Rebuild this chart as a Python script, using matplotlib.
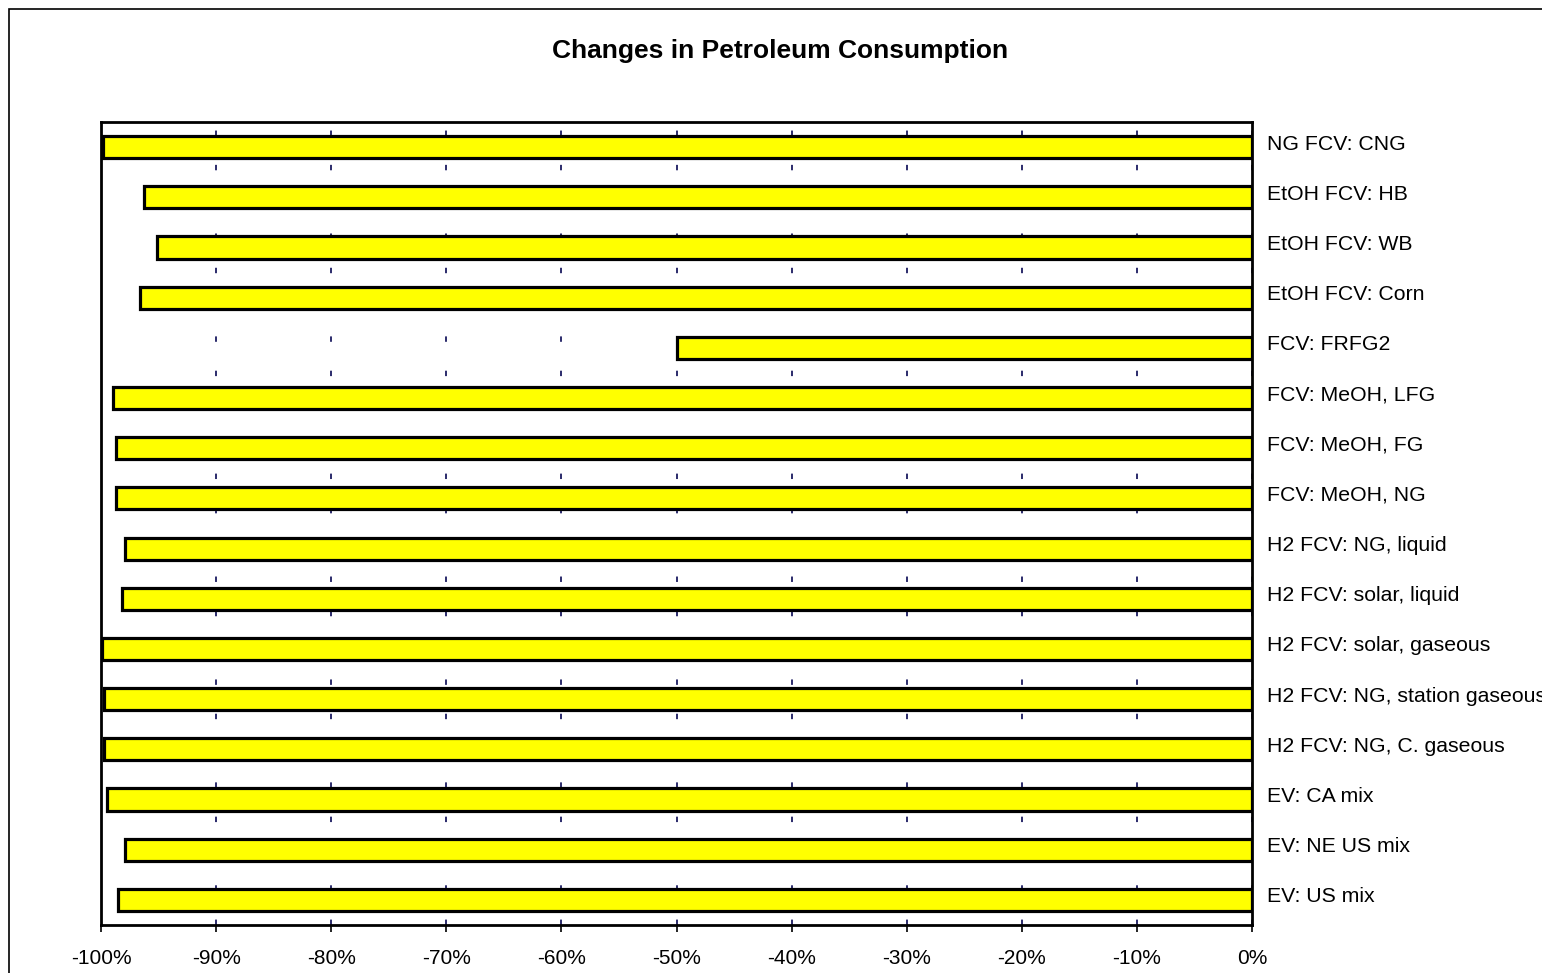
import matplotlib
matplotlib.use("Agg")
import matplotlib.pyplot as plt
from matplotlib.patches import Rectangle
from matplotlib.transforms import ScaledTranslation

categories = [
    "NG FCV: CNG",
    "EtOH FCV: HB",
    "EtOH FCV: WB",
    "EtOH FCV: Corn",
    "FCV: FRFG2",
    "FCV: MeOH, LFG",
    "FCV: MeOH, FG",
    "FCV: MeOH, NG",
    "H2 FCV: NG, liquid",
    "H2 FCV: solar, liquid",
    "H2 FCV: solar, gaseous",
    "H2 FCV: NG, station gaseous",
    "H2 FCV: NG, C. gaseous",
    "EV: CA mix",
    "EV: NE US mix",
    "EV: US mix",
]
changes_pct = [-99.8, -96.3, -95.1, -96.6, -50.0, -99.0, -98.7, -98.7,
               -97.9, -98.2, -99.9, -99.7, -99.7, -99.5, -97.9, -98.5]
x_ticks = [-100, -90, -80, -70, -60, -50, -40, -30, -20, -10, 0]
x_labels = [f"{t}%" for t in x_ticks]

plt.rcParams['font.family'] = ['Liberation Sans', 'DejaVu Sans']

W, H = 1542, 973
fig = plt.figure(figsize=(W / 100, H / 100), dpi=100)
fig.patch.set_facecolor('white')

# outer frame
fig.add_artist(Rectangle((9 / W, -0.05), 1.2, 1 - 9 / H + 0.05,
                         transform=fig.transFigure, fill=False,
                         edgecolor='black', linewidth=1.2, clip_on=False))

ax = fig.add_axes([101 / W, 1 - 925 / H, (1252 - 101) / W, (925 - 122) / H])

ypos = list(range(len(categories)))
ax.barh(ypos, changes_pct, height=0.44, color='#ffff00', edgecolor='black',
        linewidth=2.3, zorder=3)

ax.set_xlim(-100, 0)
ax.set_ylim(len(categories) - 0.5, -0.5)
ax.set_xticks(x_ticks)
ax.set_xticklabels(x_labels, fontsize=15)
ax.set_yticks(ypos)
ax.set_yticklabels(categories, fontsize=15.3)
ax.yaxis.tick_right()
ax.tick_params(axis='y', length=0, pad=11)
ax.tick_params(axis='x', length=5, width=1.2, pad=12, direction='out')

up = ScaledTranslation(0, 5 / 100, fig.dpi_scale_trans)
for lbl in ax.get_yticklabels():
    lbl.set_transform(lbl.get_transform() + up)

for s in ax.spines.values():
    s.set_linewidth(2.0)
    s.set_color('black')

ax.grid(axis='x', color='#1a1a60', linewidth=1.3, linestyle=(0, (3, 16)), zorder=1)
ax.set_axisbelow(True)

fig.text(780 / W, 1 - 51 / H, "Changes in Petroleum Consumption",
         ha='center', va='center', fontsize=19, fontweight='bold')

fig.savefig("out.png", dpi=100)
